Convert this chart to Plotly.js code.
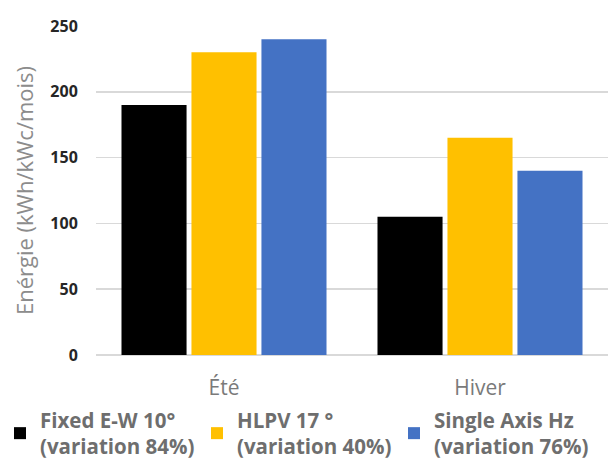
<!DOCTYPE html>
<html>
<head>
<meta charset="utf-8">
<script src="https://cdn.plot.ly/plotly-3.0.1.min.js"></script>
<style>html,body{margin:0;padding:0;background:#fff;}#chart{width:608px;height:467px;}</style>
</head>
<body>
<div id="chart"></div>
<script>
const categories = ["Été", "Hiver"];
const seriesNames = ["Fixed E-W 10°<br>(variation 84%)", "HLPV 17 °<br>(variation 40%)", "Single Axis Hz<br>(variation 76%)"];
const fixedEW = [190, 105];
const hlpv = [230, 165];
const singleAxis = [240, 140];
const yTicks = [0, 50, 100, 150, 200, 250];
const colors = ["#000000", "#FFC000", "#4472C4"];

const values = [fixedEW, hlpv, singleAxis];
const traces = values.map((v, i) => ({
  type: "bar",
  x: categories,
  y: v,
  name: seriesNames[i],
  marker: {color: colors[i]},
  hoverinfo: "skip"
}));

const layout = {
  width: 608,
  height: 467,
  margin: {l: 96, r: 0, t: 26, b: 112},
  paper_bgcolor: "#ffffff",
  plot_bgcolor: "#ffffff",
  barmode: "group",
  bargap: 0.18,
  bargroupgap: 0.07,
  font: {family: "Open Sans, sans-serif", color: "#595959"},
  xaxis: {
    tickfont: {size: 21, color: "#7a7a7a"},
    showgrid: false,
    showline: false,
    ticks: "outside",
    ticklen: 14,
    tickcolor: "rgba(0,0,0,0)",
    zeroline: false
  },
  yaxis: {
    range: [0, 250],
    tickvals: yTicks,
    ticktext: yTicks.map(String),
    tickfont: {size: 16, color: "#262626", weight: "bold"},
    showgrid: true,
    gridcolor: "#d9d9d9",
    gridwidth: 1.5,
    zeroline: true,
    zerolinecolor: "#d9d9d9",
    zerolinewidth: 1.5,
    ticks: "outside",
    ticklen: 14,
    tickcolor: "rgba(0,0,0,0)",
    title: {text: "Enérgie (kWh/kWc/mois)", font: {size: 22, color: "#8c8c8c"}, standoff: 10}
  },
  showlegend: true,
  legend: {
    orientation: "h",
    xref: "paper",
    yref: "paper",
    x: -0.1875,
    y: -0.138,
    xanchor: "left",
    yanchor: "top",
    entrywidth: 152,
    entrywidthmode: "pixels",
    font: {size: 20.5, color: "#6e6e6e", weight: "bold"},
    traceorder: "normal"
  }
};

Plotly.newPlot("chart", traces, layout, {displayModeBar: false, staticPlot: true});
</script>
</body>
</html>
